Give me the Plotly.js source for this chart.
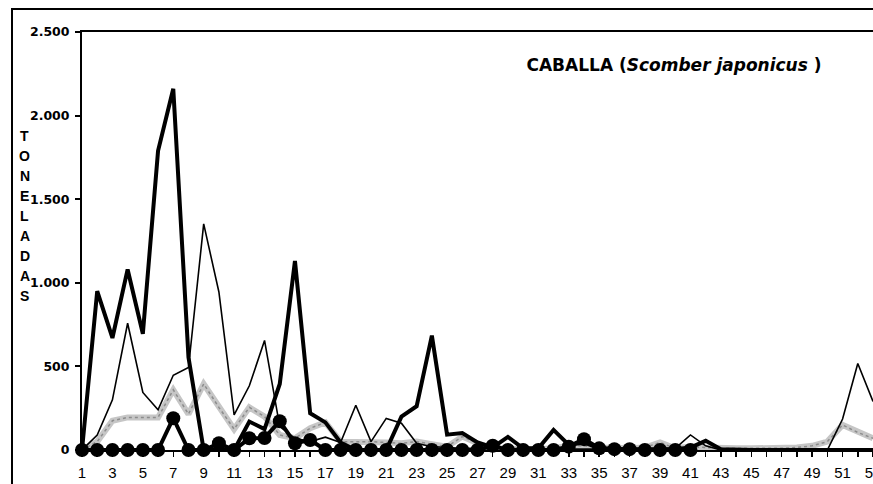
<!DOCTYPE html>
<html>
<head>
<meta charset="utf-8">
<script src="https://cdn.plot.ly/plotly-3.0.1.min.js"></script>
<style>
  html, body { margin: 0; padding: 0; background: #ffffff; }
  #chart { width: 873px; height: 484px; }
</style>
</head>
<body>
<div id="chart"></div>
<script>
// ---- data ----
const weeks = [1,2,3,4,5,6,7,8,9,10,11,12,13,14,15,16,17,18,19,20,21,22,23,24,25,26,27,28,29,30,31,32,33,34,35,36,37,38,39,40,41,42,43,44,45,46,47,48,49,50,51,52,53];

// thick black line
const seriesThick = [0,950,670,1080,695,1790,2160,555,0,0,0,170,125,395,1130,220,165,45,0,0,0,200,262,684,92,102,45,15,78,10,10,120,30,45,10,5,5,5,5,5,15,55,5,0,0,0,0,0,0,0,0,0,0];

// thin black line
const seriesThin = [0,90,300,758,344,240,447,493,1352,945,210,384,655,140,70,50,77,45,268,50,189,160,40,20,15,10,10,10,10,5,5,5,5,5,5,5,5,5,10,10,90,25,0,0,0,0,0,0,0,0,185,517,290];

// grey stippled line
const seriesGrey = [0,50,175,195,195,195,360,215,395,255,125,255,200,90,70,130,165,50,50,50,45,40,50,35,20,80,40,10,5,5,5,10,25,25,15,10,10,15,45,10,20,15,10,10,10,10,10,15,25,50,150,105,70];

// thick black line with circle markers (weeks 1-41)
const weeksCircles = [1,2,3,4,5,6,7,8,9,10,11,12,13,14,15,16,17,18,19,20,21,22,23,24,25,26,27,28,29,30,31,32,33,34,35,36,37,38,39,40,41];
const seriesCircles = [0,0,0,0,0,0,190,0,0,40,0,70,72,172,40,60,0,0,0,0,0,0,0,0,0,0,0,25,0,0,0,0,20,65,10,5,5,0,0,0,0];

const yTickVals = [0,500,1000,1500,2000,2500];
const yTickText = ['0','500','1.000','1.500','2.000','2.500'];
const xTickText = weeks.map(w => (w % 2 === 1 ? String(w) : ''));

const yTitleLetters = 'TONELADAS'.split('');
const chartTitle = '<b>CABALLA (<i>Scomber japonicus</i> )</b>';

// ---- traces ----
const traces = [
  { x: weeks, y: seriesGrey, mode: 'lines', line: { color: '#c6c6c6', width: 6 }, cliponaxis: false, hoverinfo: 'skip' },
  { x: weeks, y: seriesGrey, mode: 'lines', line: { color: '#8c8c8c', width: 1.5, dash: 'dot' }, cliponaxis: false, hoverinfo: 'skip' },
  { x: weeks, y: seriesThin, mode: 'lines', line: { color: '#000000', width: 1.6 }, cliponaxis: false },
  { x: weeks, y: seriesThick, mode: 'lines', line: { color: '#000000', width: 4 }, cliponaxis: false },
  { x: weeksCircles, y: seriesCircles, mode: 'lines+markers', line: { color: '#000000', width: 4 },
    marker: { color: '#000000', size: 14, symbol: 'circle' }, cliponaxis: false }
];

// ---- layout ----
const W = 873, H = 484;
const mL = 82, mR = 0, mT = 32, mB = 34;
const plotW = W - mL - mR, plotH = H - mT - mB;
const px2paperX = px => (px - mL) / plotW;
const px2paperY = py => 1 - (py - mT) / plotH;

const annotations = yTitleLetters.map((ch, i) => ({
  text: '<b>' + ch + '</b>',
  xref: 'paper', yref: 'paper',
  x: px2paperX(25), y: px2paperY(136 + i * 20),
  xanchor: 'center', yanchor: 'middle',
  showarrow: false,
  font: { family: 'Liberation Sans, Arial, sans-serif', size: 14, color: '#000000' }
}));

const layout = {
  width: W, height: H,
  margin: { l: mL, r: mR, t: mT, b: mB, pad: 0 },
  paper_bgcolor: '#ffffff', plot_bgcolor: '#ffffff',
  showlegend: false,
  title: {
    text: chartTitle,
    font: { family: 'DejaVu Sans, sans-serif', size: 17, color: '#000000' },
    xref: 'paper', x: px2paperX(674), xanchor: 'center',
    yref: 'paper', y: px2paperY(65), yanchor: 'middle'
  },
  xaxis: {
    range: [1, 53], autorange: false,
    tickmode: 'array', tickvals: weeks, ticktext: xTickText,
    ticks: 'outside', ticklen: 5, tickwidth: 1.5, tickcolor: '#000000',
    ticklabeloverflow: 'allow', ticklabelstandoff: 3,
    showline: true, linewidth: 2, linecolor: '#000000', mirror: true,
    showgrid: false, zeroline: false, automargin: false,
    tickfont: { family: 'Liberation Sans, Arial, sans-serif', size: 15, color: '#000000' }
  },
  yaxis: {
    range: [0, 2500], autorange: false,
    tickmode: 'array', tickvals: yTickVals, ticktext: yTickText,
    ticks: 'outside', ticklen: 5, tickwidth: 2, tickcolor: '#000000',
    ticklabelstandoff: 3,
    showline: true, linewidth: 2, linecolor: '#000000',
    showgrid: false, zeroline: false, automargin: false,
    tickfont: { family: 'DejaVu Sans, sans-serif', size: 12.5, color: '#000000', weight: 'bold' }
  },
  annotations: annotations,
  shapes: [
    { type: 'rect', xref: 'paper', yref: 'paper',
      x0: px2paperX(12), x1: px2paperX(W + 20), y0: px2paperY(H + 20), y1: px2paperY(9),
      line: { color: '#000000', width: 2 }, fillcolor: 'rgba(0,0,0,0)', layer: 'above' }
  ]
};

Plotly.newPlot('chart', traces, layout, { displayModeBar: false, staticPlot: true });
</script>
</body>
</html>
